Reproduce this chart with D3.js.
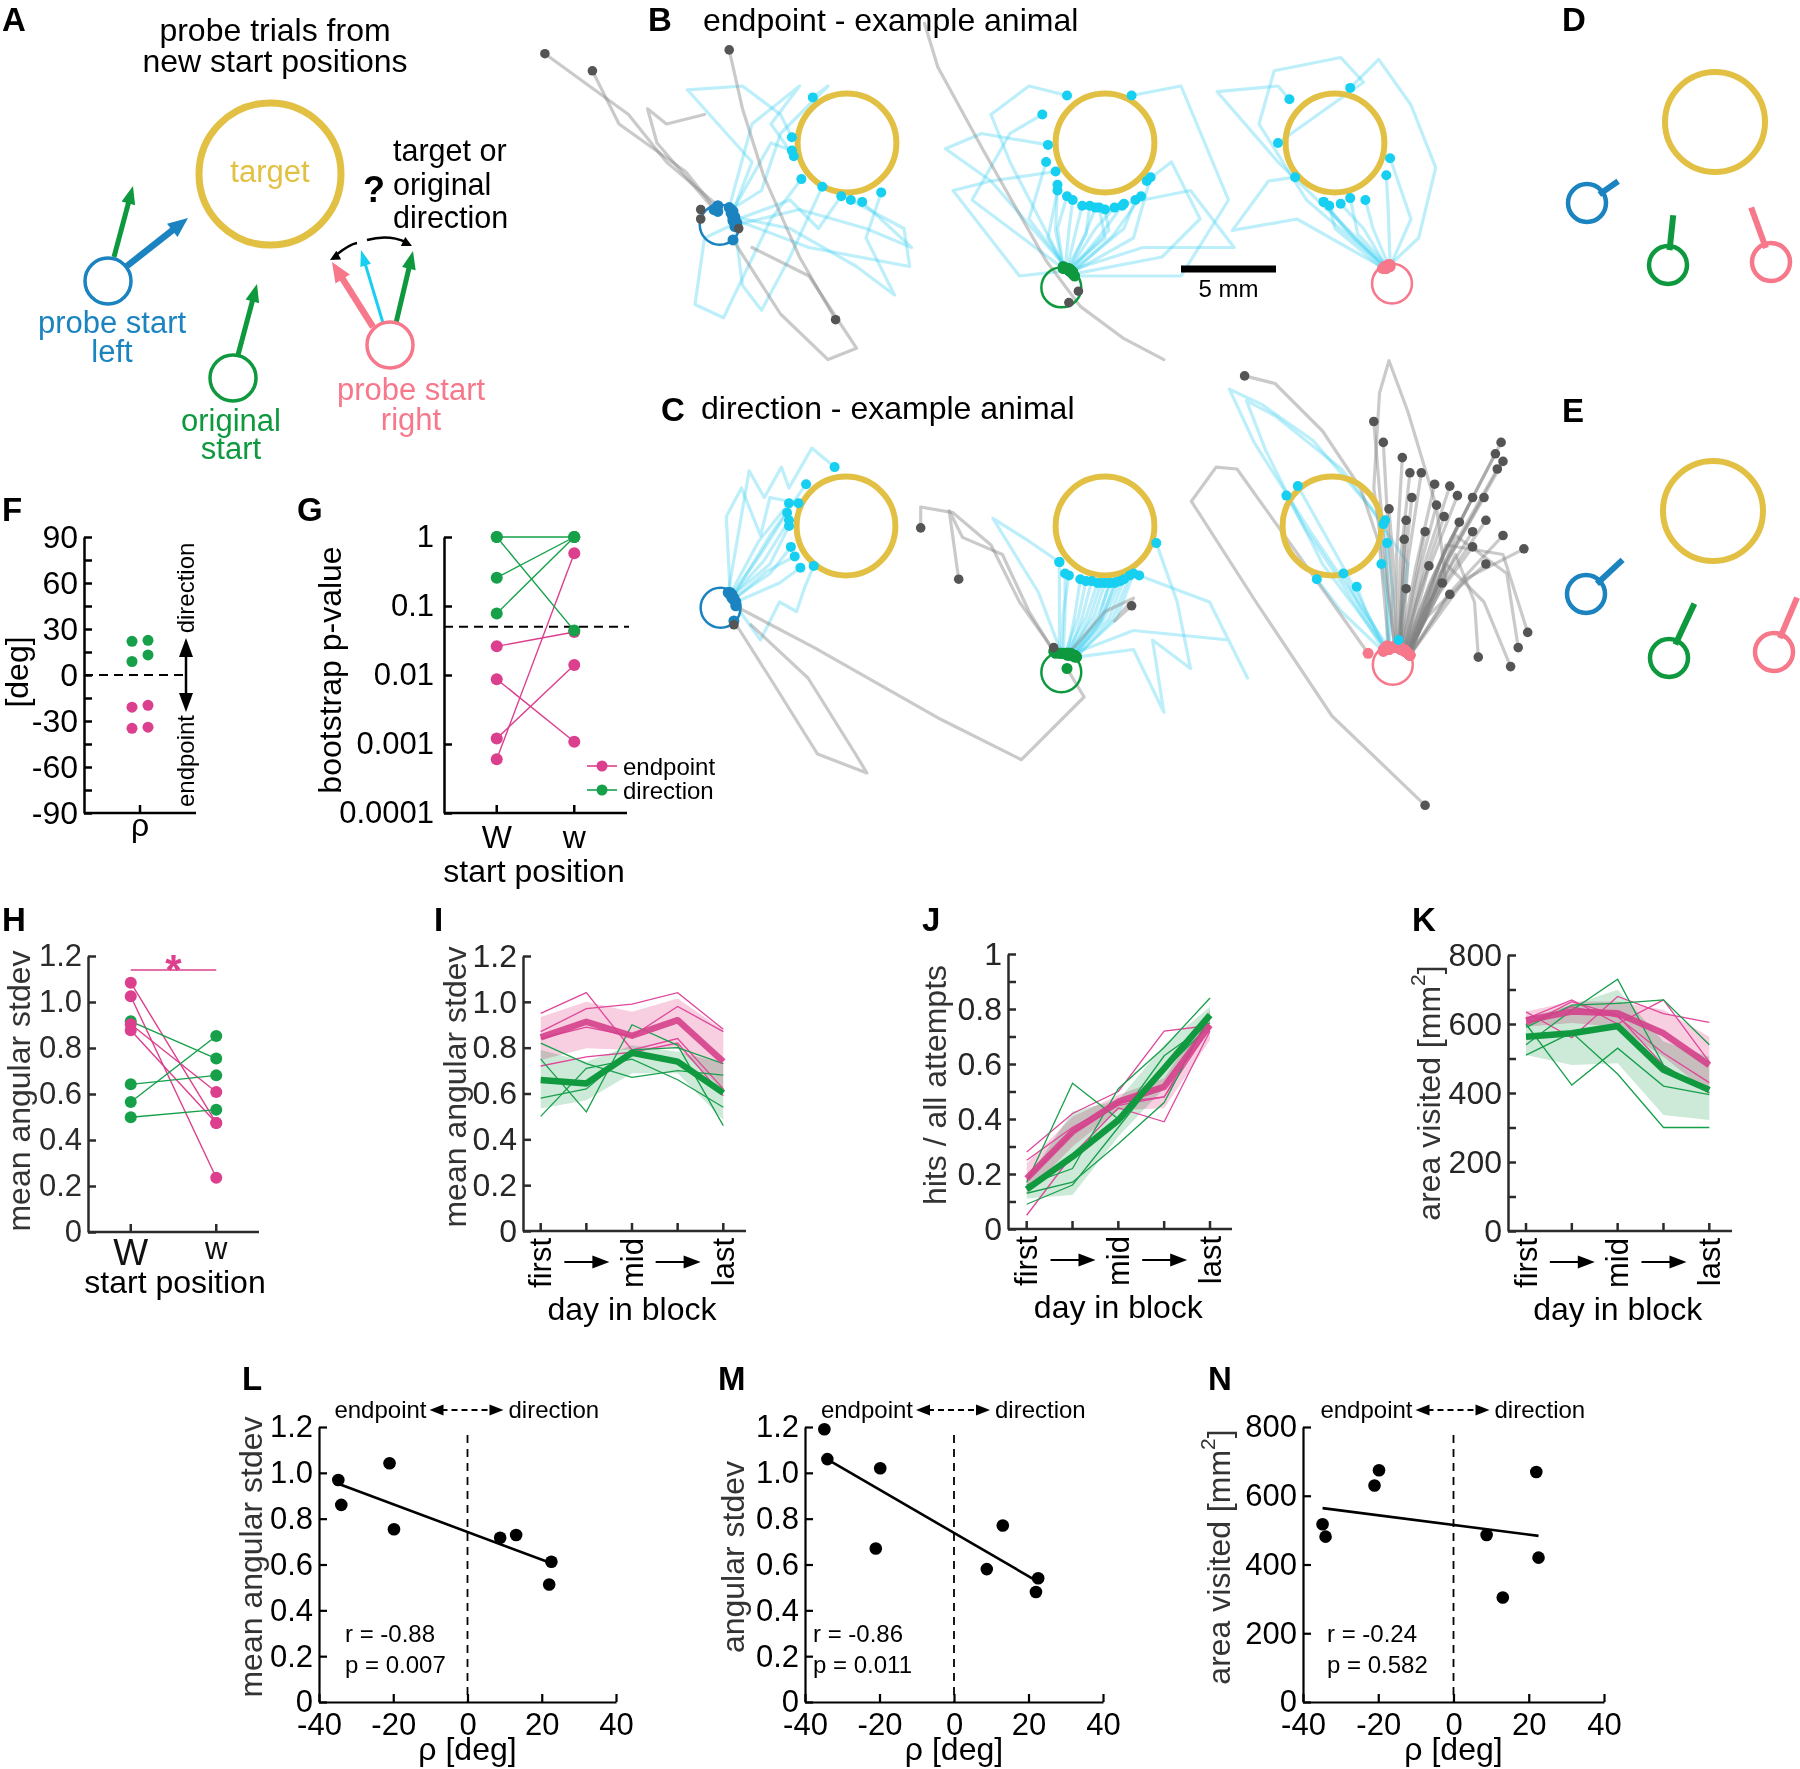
<!DOCTYPE html>
<html><head><meta charset="utf-8">
<script src="https://cdn.jsdelivr.net/npm/d3@7"></script>
<style>body{margin:0;background:#fff}svg{display:block;background:#fff}</style>
</head><body>
<script>
// ======================= DATA =======================
// rho (deg) per animal, shared by F, L, M, N
const rho      = [-34.8, -34.0, -21.0, -19.8, 8.8, 13.1, 22.0, 22.6];
const rhoGroup = ["endpoint","endpoint","endpoint","endpoint","direction","direction","direction","direction"];
const fColumn  = [-1, 1, -1, 1, -1, 1, -1, 1];
const fTicks   = [-90,-75,-60,-45,-30,-15,0,15,30,45,60,75,90];

// G: bootstrap p-values, start positions W / w
const gCats    = ["W","w"];
const gEndW    = [0.026, 0.0087, 0.0012, 0.0006];
const gEndw    = [0.042, 0.00108, 0.014, 0.58];
const gDirW    = [1.0, 1.0, 0.257, 0.078];
const gDirw    = [1.0, 0.044, 1.0, 1.0];
const gTicks   = [0.0001, 0.001, 0.01, 0.1, 1];
const gTickLab = ["0.0001","0.001","0.01","0.1","1"];

// H: mean angular stdev
const hEndW = [1.084, 1.025, 0.903, 0.877];
const hEndw = [0.474, 0.236, 0.609, 0.474];
const hDirW = [0.916, 0.642, 0.565, 0.499];
const hDirw = [0.754, 0.681, 0.852, 0.532];

// I, J, K: day in block (5 days)
const days = ["first","","mid","","last"];
const iEndMean = [0.845,0.913,0.852,0.920,0.739];
const iEndLo   = [0.746,0.797,0.790,0.798,0.615];
const iEndHi   = [0.934,1.000,0.957,1.015,0.877];
const iDirMean = [0.659,0.644,0.778,0.739,0.603];
const iDirLo   = [0.535,0.571,0.688,0.688,0.484];
const iDirHi   = [0.790,0.739,0.811,0.782,0.732];
const iEndInd  = [[0.95,1.04,0.79,0.84,0.62],[0.87,0.97,0.99,1.04,0.88],[0.84,0.89,0.85,0.98,0.87],[0.72,0.76,0.78,0.82,0.59]];
const iDirInd  = [[0.82,0.73,0.67,0.70,0.68],[0.75,0.52,0.90,0.81,0.46],[0.58,0.62,0.79,0.80,0.73],[0.50,0.71,0.75,0.66,0.54]];

const jEndMean = [0.184,0.354,0.463,0.517,0.742];
const jEndLo   = [0.130,0.300,0.433,0.439,0.687];
const jEndHi   = [0.239,0.408,0.487,0.548,0.796];
const jDirMean = [0.144,0.263,0.396,0.584,0.778];
const jDirLo   = [0.111,0.124,0.336,0.512,0.748];
const jDirHi   = [0.178,0.427,0.469,0.669,0.808];
const jEndInd  = [[0.28,0.42,0.50,0.72,0.74],[0.25,0.37,0.46,0.48,0.77],[0.18,0.35,0.45,0.48,0.73],[0.05,0.27,0.44,0.39,0.72]];
const jDirInd  = [[0.17,0.53,0.40,0.63,0.75],[0.16,0.22,0.51,0.66,0.84],[0.13,0.17,0.31,0.46,0.78],[0.09,0.16,0.37,0.58,0.74]];

const kEndMean = [611,636,631,573,481];
const kEndLo   = [592,603,592,505,399];
const kEndHi   = [636,665,665,641,563];
const kDirMean = [563,573,594,467,409];
const kDirLo   = [510,481,486,336,322];
const kDirHi   = [617,655,699,549,505];
const kEndInd  = [[635,560,680,630,605],[615,670,600,670,490],[600,650,620,515,430],[595,665,625,480,400]];
const kDirInd  = [[600,423,530,420,395],[590,655,660,670,540],[540,640,730,480,400],[510,575,455,300,300]];

// L, M, N: per-animal values vs rho
const lVals = [0.969,0.860,1.042,0.754,0.717,0.729,0.513,0.612];
const mVals = [1.19,1.06,0.67,1.02,0.58,0.77,0.48,0.54];
const nVals = [517,481,630,674,486,304,669,420];
const lStats = ["r = -0.88","p = 0.007"];
const mStats = ["r = -0.86","p = 0.011"];
const nStats = ["r = -0.24","p = 0.582"];

// D, E: mean heading (deg, clockwise from up) and vector length for left / original / right
const dHeading = [55, 6, -20];
const dLength  = [38, 50, 58];
const eHeading = [47, 25, 23];
const eLength  = [50, 60, 59];

// Trajectories (mm, relative to target centre; y down)
const targetRmm = 2.6, startRmm = 1.05, scaleBarMm = 5;
const hitsB1 = [
 [[-6.0,3.6],[-5.0,1.0],[-8.4,-2.8],[-5.5,-3.0],[-3.5,-1.5],[-2.9,-0.3]],
 [[-5.9,3.9],[-3.0,4.5],[0.5,6.5],[2.5,8.0],[1.0,5.0],[1.8,2.6]],
 [[-5.8,4.2],[-7.5,5.0],[-8.0,8.5],[-6.5,9.2],[-4.0,4.0],[-2.4,1.9]],
 [[-6.1,3.5],[-4.5,2.5],[-3.5,-0.5],[-1.0,-3.0],[-1.8,-2.4]],
 [[-6.0,4.0],[-2.0,5.5],[3.3,6.5],[3.0,4.5],[0.2,3.0]],
 [[-6.2,3.4],[-5.0,-1.0],[-2.5,-3.0],[-4.0,-1.0],[-2.8,0.7]],
 [[-5.9,4.4],[-5.5,7.5],[-4.5,8.8],[-3.0,6.0],[-1.3,2.3]],
 [[-6.0,4.1],[-3.0,3.0],[-1.5,4.5],[-0.3,2.8]],
 [[-6.1,3.7],[-4.0,0.0],[-2.9,0.4]],
 [[-5.8,4.3],[-2.5,3.5],[1.0,4.5],[3.4,5.5],[0.8,3.1]]
];
const missB1 = [
 {pts:[[-6.8,3.3],[-9.5,1.0],[-11.5,-1.5],[-15.9,-4.7]], dot:1},
 {pts:[[-6.8,3.6],[-8.5,1.5],[-12.0,-1.0],[-13.4,-3.8]], dot:1},
 {pts:[[-6.2,-4.9],[-5.5,-1.8],[-4.4,1.7],[-2.5,6.0],[-0.6,9.3]], dot:1, dot0:1},
 {pts:[[-6.0,5.1],[-3.5,9.0],[-1.0,11.4],[0.5,10.8],[-2.0,7.0],[-5.0,5.5]], dot:0},
 {pts:[[-7.0,3.5],[-10.0,0.0],[-10.5,-1.8],[-9.5,-1.0],[-7.5,-1.5]], dot:0},
 {pts:[[-7.7,3.5]], dot:1},{pts:[[-7.7,4.0]], dot:1},{pts:[[-5.7,4.5]], dot:1}
];
const hitsB2 = [
 [[-2.0,6.6],[-1.5,4.5],[-1.2,3.3]],
 [[-1.9,6.7],[-0.5,4.5],[0.5,3.4]],
 [[-2.2,6.5],[-2.5,4.5],[-2.0,2.8]],
 [[-1.8,6.8],[1.0,4.5],[1.6,3.0]],
 [[-2.0,6.6],[-6.0,2.0],[-8.4,0.3],[-6.5,-0.5],[-3.0,0.1]],
 [[-2.1,6.6],[-5.0,1.0],[-6.0,-1.5],[-4.0,-3.0],[-2.0,-2.5]],
 [[-1.7,6.9],[3.0,6.0],[5.0,4.0],[3.5,1.0],[2.2,2.0]],
 [[-1.6,7.0],[4.0,7.0],[6.5,3.0],[4.0,-3.0],[1.4,-2.5]],
 [[-2.2,6.6],[-7.0,3.0],[-5.0,-0.5],[-3.3,-1.5]],
 [[-1.9,6.6],[0.0,5.0],[-0.3,3.4]],
 [[-1.8,6.7],[2.0,5.5],[6.8,5.5],[4.5,2.5],[1.0,3.2]],
 [[-2.0,6.6],[-1.0,4.8],[-0.8,3.3]],
 [[-2.1,6.6],[-3.0,5.0],[-2.5,2.5]],
 [[-1.9,6.7],[-4.5,7.0],[-8.0,2.5],[-6.0,2.0],[-2.6,1.5]],
 [[-2.1,6.6],[-1.9,4.6],[-1.7,3.0]],
 [[-1.9,6.7],[-1.0,4.7],[-0.5,3.4]],
 [[-1.8,6.7],[-0.2,4.8],[0.9,3.3]],
 [[-1.7,6.8],[0.4,4.9],[1.9,2.8]],
 [[-2.2,6.6],[-2.6,4.6],[-2.5,2.2]],
 [[-1.8,6.7],[0.2,4.6],[0.0,3.5]],
 [[-2.0,6.6],[-4.0,4.0],[-3.1,1.0]],
 [[-1.7,6.8],[1.5,5.0],[2.4,1.8]]
];
const missB2 = [
 {pts:[[-9.5,-6.3],[-8.8,-4.0],[-6.4,0.4],[-3.1,6.2],[-1.3,8.6],[1.0,10.3],[3.1,11.4]], dot:0},
 {pts:[[-1.4,7.8]], dot:1},{pts:[[-1.9,8.4]], dot:1}
];
const hitsB3 = [
 [[2.6,6.5],[0.5,4.5],[-0.6,3.1]],
 [[2.7,6.5],[1.5,4.5],[0.3,3.2]],
 [[2.8,6.4],[2.0,4.5],[1.6,3.0]],
 [[2.9,6.4],[2.8,3.5],[2.7,1.7]],
 [[2.6,6.6],[-2.0,4.0],[-5.4,4.6],[-3.5,2.0],[-2.1,1.8]],
 [[2.7,6.5],[-3.0,1.0],[-6.2,-2.7],[-3.0,-3.0],[-2.4,-2.3]],
 [[2.8,6.5],[4.4,5.0],[5.3,1.3],[4.0,-2.0],[2.3,-4.4],[0.8,-2.9]],
 [[2.7,6.6],[-1.5,3.0],[-4.0,-1.0],[-3.2,-3.8],[0.3,-4.5],[1.5,-3.2],[-3.0,0.0]],
 [[2.9,6.5],[4.0,4.0],[2.9,0.8]],
 [[2.5,6.6],[0.0,4.5],[-0.3,3.3]],
 [[2.8,6.5],[1.2,4.8],[0.8,2.9]],
 [[2.7,6.6],[1.0,5.0],[-0.6,3.1]]
];
const missB3 = [];
const hitsC1 = [
 [[-6.0,3.6],[-4.5,1.5],[-3.1,-0.7]],
 [[-6.0,3.7],[-4.0,2.0],[-3.0,0.0]],
 [[-5.9,3.8],[-4.0,2.5],[-2.9,1.1]],
 [[-5.8,4.0],[-3.5,3.0],[-2.4,2.2]],
 [[-6.1,3.5],[-6.3,-0.5],[-5.5,-2.0],[-4.5,0.5],[-4.0,-1.5],[-2.5,-1.2]],
 [[-6.2,3.5],[-5.1,-2.9],[-4.3,-1.5],[-3.4,-3.1],[-3.0,-2.0],[-1.8,-4.1],[-0.6,-3.1]],
 [[-5.8,4.2],[-4.5,6.0],[-3.5,4.0],[-2.6,4.5],[-2.2,3.3],[-1.7,2.1]],
 [[-6.0,3.8],[-4.0,0.5],[-2.1,-2.2]],
 [[-6.0,3.7],[-4.3,1.8],[-3.0,-0.3]],
 [[-5.9,3.9],[-4.2,2.4],[-2.7,1.6]],
 [[-6.1,3.6],[-4.6,0.8],[-3.0,-1.2]]
];
const missC1 = [
 {pts:[[-5.9,5.0],[-4.0,8.0],[-1.5,12.0],[1.1,13.0],[0.5,12.0],[-2.0,8.0],[-5.0,5.2]], dot:0},
 {pts:[[-5.9,5.2]], dot:1}
];
const hitsC2 = [
 [[-2.4,6.7],[-2.4,4.5],[-2.4,1.9]],
 [[-2.2,6.7],[-2.1,4.5],[-2.1,2.5]],
 [[-2.0,6.7],[-1.6,4.8],[-1.3,2.8]],
 [[-1.9,6.7],[-1.2,4.8],[-0.7,2.9]],
 [[-1.8,6.7],[-0.8,4.8],[-0.2,3.0]],
 [[-1.7,6.8],[-0.4,4.8],[0.3,3.0]],
 [[-1.6,6.8],[0.0,4.8],[0.8,2.9]],
 [[-1.5,6.9],[0.4,4.9],[1.3,2.6]],
 [[-1.5,6.9],[1.5,6.5],[3.1,9.8],[2.5,6.0],[4.5,7.5],[3.8,4.0],[2.7,0.9]],
 [[-2.3,6.7],[-3.5,3.5],[-5.9,-0.4],[-4.0,0.8],[-2.4,1.9]],
 [[-1.9,6.8],[1.5,5.5],[6.5,6.0],[7.5,8.0],[5.5,4.0],[1.8,2.6]],
 [[-1.6,6.8],[-0.2,5.0],[0.5,3.0]],
 [[-2.1,6.7],[-1.4,4.8],[-1.0,2.9]],
 [[-1.9,6.7],[-0.6,4.8],[0.0,3.0]],
 [[-1.8,6.8],[-0.2,4.9],[0.6,2.95]],
 [[-1.7,6.8],[0.2,4.9],[1.0,2.8]],
 [[-1.6,6.9],[0.6,4.9],[1.5,2.5]],
 [[-2.3,6.7],[-2.2,4.6],[-1.9,2.6]],
 [[-2.0,6.7],[-1.0,4.8],[-0.4,3.0]],
 [[-1.9,6.8],[-0.3,4.9],[0.2,3.0]]
];
const missC2 = [
 {pts:[[-2.7,6.6],[-4.0,4.5],[-5.4,1.5],[-7.5,0.6],[-8.2,-0.8],[-7.7,2.8]], dot:1},
 {pts:[[-2.6,6.7],[-4.5,4.0],[-6.0,1.0],[-8.0,-0.7],[-9.7,-1.0],[-9.7,0.1]], dot:1},
 {pts:[[-2.0,6.8],[0.0,4.5],[1.5,3.8],[0.5,5.0],[1.4,4.2]], dot:1},
 {pts:[[-2.0,7.5],[-1.1,9.0],[-4.4,12.3],[-8.6,10.2],[-15.3,6.4],[-19.1,4.4]], dot:0},
 {pts:[[-2.7,6.4]], dot:1}
];
const hitsC3 = [
 [[2.9,6.4],[2.9,3.0],[2.8,-0.3]],
 [[3.0,6.4],[3.2,3.5],[2.9,0.9]],
 [[3.0,6.5],[2.9,4.0],[2.6,2.0]],
 [[2.8,6.5],[1.8,4.5],[1.3,3.2]],
 [[2.8,6.5],[1.5,4.3],[0.6,2.5]],
 [[2.7,6.6],[0.5,4.5],[-0.8,2.8]],
 [[2.7,6.5],[0.5,3.0],[-1.5,0.0],[-2.4,-1.6]],
 [[2.8,6.4],[0.5,2.0],[-1.8,-2.1]],
 [[2.9,6.3],[-1.0,0.5],[-4.1,-4.4],[-5.4,-7.2],[-3.7,-6.4],[-1.0,-4.5],[2.0,-1.0],[4.0,2.0],[3.5,6.0]],
 [[2.8,6.4],[-0.5,2.0],[-3.5,-4.0],[-4.5,-6.6],[-3.0,-5.8],[0.5,-3.0],[2.7,-0.1]]
];
const missC3 = [
 {pts:[[3.3,6.4],[2.7,0.5],[2.2,-5.5]],dot:1},
 {pts:[[3.4,6.4],[3.0,1.0],[2.7,-4.4]],dot:1},
 {pts:[[3.5,6.4],[3.4,1.5],[3.7,-3.6]],dot:1},
 {pts:[[3.6,6.4],[3.6,1.8],[4.1,-2.8]],dot:1},
 {pts:[[3.7,6.5],[4.0,1.8],[4.7,-2.8]],dot:1},
 {pts:[[3.6,6.4],[4.4,2.2],[5.4,-2.2]],dot:1},
 {pts:[[3.8,6.5],[4.8,2.2],[6.2,-2.1]],dot:1},
 {pts:[[3.9,6.6],[5.0,2.5],[6.6,-1.6]],dot:1},
 {pts:[[3.8,6.5],[5.4,2.5],[7.4,-1.5]],dot:1},
 {pts:[[4.0,6.7],[5.7,2.5],[8.0,-1.5]],dot:1},
 {pts:[[3.9,6.6],[6.0,1.2],[8.9,-4.4]],dot:1},
 {pts:[[4.0,6.7],[5.9,1.4],[8.6,-3.8]],dot:1},
 {pts:[[4.1,6.8],[6.2,1.6],[9.0,-3.4]],dot:1},
 {pts:[[4.0,6.7],[6.0,1.8],[8.7,-3.0]],dot:1},
 {pts:[[3.6,6.4],[3.8,2.5],[4.2,-1.5]],dot:1},
 {pts:[[3.7,6.5],[4.5,2.7],[5.5,-1.1]],dot:1},
 {pts:[[3.8,6.5],[4.7,3.0],[5.9,-0.5]],dot:1},
 {pts:[[3.5,6.4],[3.7,3.0],[3.9,-0.3]],dot:1},
 {pts:[[3.9,6.6],[5.1,3.1],[6.7,-0.2]],dot:1},
 {pts:[[4.0,6.7],[5.9,3.0],[8.1,-0.3]],dot:1},
 {pts:[[3.7,6.5],[4.3,3.3],[4.9,0.3]],dot:1},
 {pts:[[3.9,6.6],[5.5,3.3],[7.4,0.3]],dot:1},
 {pts:[[3.6,6.4],[3.7,3.5],[3.8,0.7]],dot:1},
 {pts:[[4.1,6.8],[6.4,3.3],[9.0,0.5]],dot:1},
 {pts:[[4.1,6.8],[7.0,2.8],[10.1,1.2]],dot:1},
 {pts:[[4.0,6.7],[5.6,3.6],[7.4,1.1]],dot:1},
 {pts:[[4.1,6.8],[6.0,3.8],[8.1,2.0]],dot:1},
 {pts:[[3.8,6.6],[4.4,4.2],[5.1,2.1]],dot:1},
 {pts:[[3.6,6.5],[3.7,4.8],[3.9,3.3]],dot:1},
 {pts:[[3.9,6.6],[4.8,4.5],[5.8,3.0]],dot:1},
 {pts:[[4.0,6.7],[5.0,4.8],[6.2,3.6]],dot:1},
 {pts:[[4.0,6.7],[6.0,1.0],[9.0,1.5],[10.3,5.6]],dot:1},
 {pts:[[4.1,6.8],[6.5,0.5],[9.2,2.5],[9.8,6.4]],dot:1},
 {pts:[[4.1,6.8],[6.0,2.0],[8.0,4.0],[9.4,7.4]],dot:1},
 {pts:[[4.0,6.7],[6.5,1.5],[7.5,4.0],[7.7,6.9]],dot:1},
 {pts:[[3.4,6.4],[3.3,2.8],[3.0,-0.9]],dot:1},
 {pts:[[3.0,6.5],[2.5,1.0],[1.5,-2.0],[-0.5,-5.0],[-3.0,-7.5],[-4.6,-7.9]],dot:1},
 {pts:[[1.9,6.7],[-2.5,0.5],[-5.0,-3.0],[-6.1,-3.1],[-7.4,-1.3],[-4.0,4.0],[0.0,10.0],[4.9,14.7]],dot:1},
 {pts:[[3.3,6.3],[2.2,-2.0],[2.5,-7.0],[3.0,-8.7],[4.0,-6.0],[5.5,-1.0],[6.0,3.0]],dot:0}
];

// ======================= DRAWING =======================
const FONT = '"Liberation Sans", Arial, Helvetica, sans-serif';
const COL = {gold:"#e2c044", blue:"#1b83bf", green:"#0f993f", pink:"#f6788a", cyan:"#17cff0",
  mag:"#dc3f8d", grn:"#16a04a", axis:"#2b2b2b"};
const svg = d3.select("body").append("svg").attr("width",1800).attr("height",1769)
  .attr("font-family",FONT);

function txt(x,y,s,o={}){
  const t = svg.append("text").attr("x",x).attr("y",y).text(s)
    .attr("font-size",o.size||32).attr("fill",o.fill||"#000")
    .attr("text-anchor",o.anchor||"start").attr("font-weight",o.weight||"normal");
  if(o.baseline) t.attr("dominant-baseline",o.baseline);
  return t;
}
function vtxt(cx,cy,s,size,fill){
  return svg.append("text").attr("transform",`translate(${cx},${cy}) rotate(-90)`)
    .attr("text-anchor","middle").attr("dominant-baseline","central")
    .attr("font-size",size).attr("fill",fill||"#000").text(s);
}
function plabel(x,y,s){ txt(x,y,s,{size:33,weight:"bold"}); }
function head(g,x,y,ang,color,hl,hw){
  const ux=Math.cos(ang), uy=Math.sin(ang), bx=x-ux*hl, by=y-uy*hl;
  g.append("path").attr("d",`M${x},${y}L${bx-uy*hw/2},${by+ux*hw/2}L${bx+uy*hw/2},${by-ux*hw/2}Z`).attr("fill",color);
}
function arrow(g,x1,y1,x2,y2,color,w,hl,hw){
  const a=Math.atan2(y2-y1,x2-x1);
  g.append("line").attr("x1",x1).attr("y1",y1).attr("x2",x2-Math.cos(a)*(hl-2)).attr("y2",y2-Math.sin(a)*(hl-2))
   .attr("stroke",color).attr("stroke-width",w);
  head(g,x2,y2,a,color,hl,hw);
}
function line(x1,y1,x2,y2,color,w,dash){
  const l=svg.append("line").attr("x1",x1).attr("y1",y1).attr("x2",x2).attr("y2",y2).attr("stroke",color).attr("stroke-width",w);
  if(dash) l.attr("stroke-dasharray",dash);
  return l;
}
function yAxis(scale,x,o){
  const ax=d3.axisLeft(scale).tickSizeInner(-8).tickSizeOuter(0).tickPadding(o.pad||6);
  if(o.values) ax.tickValues(o.values);
  if(o.format) ax.tickFormat(o.format);
  const g=svg.append("g").attr("transform",`translate(${x},0)`).call(ax);
  g.attr("font-family",null).attr("font-size",null);
  g.select(".domain").attr("stroke",o.color||"#000").attr("stroke-width",o.sw||2.5);
  g.selectAll(".tick line").attr("stroke",o.color||"#000").attr("stroke-width",o.sw||2.5);
  g.selectAll(".tick text").attr("font-size",o.fs||31).attr("fill",o.tc||"#000");
  return g;
}
function xTicks(xs,y,color,sw){ xs.forEach(x=>line(x,y,x,y-8,color,sw)); }

// ---------------- Panel A ----------------
(function(){
  const g=svg.append("g");
  plabel(2,31,"A");
  txt(275,41,"probe trials from",{anchor:"middle",size:32});
  txt(275,72,"new start positions",{anchor:"middle",size:32});
  g.append("circle").attr("cx",270).attr("cy",174).attr("r",71).attr("fill","none").attr("stroke",COL.gold).attr("stroke-width",7);
  txt(270,182,"target",{anchor:"middle",size:31,fill:COL.gold});
  arrow(g,114,257,133,186,COL.green,5,18,14);
  arrow(g,127,266,188,218,COL.blue,6.5,20,17);
  g.append("circle").attr("cx",108).attr("cy",281).attr("r",23).attr("fill","none").attr("stroke",COL.blue).attr("stroke-width",3.5);
  txt(112,333,"probe start",{anchor:"middle",size:31,fill:COL.blue});
  txt(112,362,"left",{anchor:"middle",size:31,fill:COL.blue});
  arrow(g,238,355,257,284,COL.green,5,18,14);
  g.append("circle").attr("cx",233).attr("cy",378).attr("r",23).attr("fill","none").attr("stroke",COL.green).attr("stroke-width",3.5);
  txt(231,431,"original",{anchor:"middle",size:31,fill:COL.green});
  txt(231,459,"start",{anchor:"middle",size:31,fill:COL.green});
  arrow(g,373,327,332,262,COL.pink,6.5,20,17);
  arrow(g,383,323,361,250,COL.cyan,3,16,11);
  arrow(g,396,323,413,251,COL.green,5,18,14);
  g.append("circle").attr("cx",390).attr("cy",345).attr("r",23).attr("fill","none").attr("stroke",COL.pink).attr("stroke-width",3.5);
  txt(411,400,"probe start",{anchor:"middle",size:31,fill:COL.pink});
  txt(411,430,"right",{anchor:"middle",size:31,fill:COL.pink});
  g.append("path").attr("d","M336,255 Q350,244 357,243").attr("fill","none").attr("stroke","#000").attr("stroke-width",2.5);
  g.append("path").attr("d","M367,240 Q388,234 406,242").attr("fill","none").attr("stroke","#000").attr("stroke-width",2.5);
  head(g,330,260,Math.atan2(0.55,-1),"#000",10,10);
  head(g,412,246,Math.atan2(0.5,1),"#000",10,10);
  txt(374,202,"?",{anchor:"middle",size:36,weight:"bold"});
  txt(393,161,"target or",{size:30.5});
  txt(393,195,"original",{size:30.5});
  txt(393,228,"direction",{size:30.5});
})();

// ---------------- Panels B, C trajectories ----------------
const PXMM = 19;
const trajPanels = [
  {T:[847,143], S:[-6.7,4.3], col:COL.blue,  hits:hitsB1, miss:missB1},
  {T:[1105,143],S:[-2.3,7.6], col:COL.green, hits:hitsB2, miss:missB2},
  {T:[1335,143],S:[3.0,7.4],  col:COL.pink,  hits:hitsB3, miss:missB3},
  {T:[846,526], S:[-6.6,4.3], col:COL.blue,  hits:hitsC1, miss:missC1},
  {T:[1105,526],S:[-2.3,7.7], col:COL.green, hits:hitsC2, miss:missC2},
  {T:[1332,526],S:[3.2,7.3],  col:COL.pink,  hits:hitsC3, miss:missC3}
];
function drawTraj(p){
  const x=d3.scaleLinear().domain([0,1]).range([p.T[0],p.T[0]+PXMM]);
  const y=d3.scaleLinear().domain([0,1]).range([p.T[1],p.T[1]+PXMM]);
  const ln=d3.line().x(d=>x(d[0])).y(d=>y(d[1])).curve(d3.curveLinear);
  const g=svg.append("g");
  p.hits.forEach(h=>g.append("path").attr("d",ln(h)).attr("fill","none").attr("stroke","#3fd0f2")
    .attr("stroke-opacity",0.35).attr("stroke-width",3.2).attr("stroke-linejoin","round").attr("stroke-linecap","round"));
  p.miss.filter(m=>m.pts.length>1).forEach(m=>g.append("path").attr("d",ln(m.pts)).attr("fill","none").attr("stroke","#808080")
    .attr("stroke-opacity",0.42).attr("stroke-width",3.2).attr("stroke-linejoin","round").attr("stroke-linecap","round"));
  g.append("circle").attr("cx",x(0)).attr("cy",y(0)).attr("r",x(targetRmm)-x(0)).attr("fill","none").attr("stroke",COL.gold).attr("stroke-width",6);
  g.append("circle").attr("cx",x(p.S[0])).attr("cy",y(p.S[1])).attr("r",x(startRmm)-x(0)).attr("fill","none").attr("stroke",p.col).attr("stroke-width",2.5);
  const near=d=>Math.hypot(d[0]-p.S[0],d[1]-p.S[1])<1.6;
  p.hits.concat(p.miss.filter(m=>m.pts.length>1).map(m=>m.pts)).forEach(h=>{
    if(near(h[0])) g.append("circle").attr("cx",x(h[0][0])).attr("cy",y(h[0][1])).attr("r",5.5).attr("fill",p.col);
  });
  p.hits.forEach(h=>{const d=h[h.length-1]; g.append("circle").attr("cx",x(d[0])).attr("cy",y(d[1])).attr("r",5).attr("fill",COL.cyan);});
  p.miss.forEach(m=>{
    if(m.dot){const d=m.pts[m.pts.length-1]; g.append("circle").attr("cx",x(d[0])).attr("cy",y(d[1])).attr("r",4.8).attr("fill","#555");}
    if(m.dot0){const d=m.pts[0]; g.append("circle").attr("cx",x(d[0])).attr("cy",y(d[1])).attr("r",4.8).attr("fill","#555");}
  });
  return x;
}
trajPanels.forEach(drawTraj);
plabel(648,31,"B"); txt(703,31,"endpoint - example animal",{size:32});
plabel(661,421,"C"); txt(701,419,"direction - example animal",{size:32});
(function(){
  const x=d3.scaleLinear().domain([0,1]).range([1181,1181+PXMM]);
  line(x(0),269,x(scaleBarMm),269,"#000",7);
  txt((x(0)+x(scaleBarMm))/2,297,"5 mm",{anchor:"middle",size:24});
})();

// ---------------- Panels D, E ----------------
function lollipops(pos,headings,lengths){
  const g=svg.append("g"); const cols=[COL.blue,COL.green,COL.pink];
  pos.forEach((p,i)=>{
    const a=headings[i]*Math.PI/180, sx=Math.sin(a), sy=-Math.cos(a);
    g.append("line").attr("x1",p[0]+sx*15).attr("y1",p[1]+sy*15).attr("x2",p[0]+sx*lengths[i]).attr("y2",p[1]+sy*lengths[i])
      .attr("stroke",cols[i]).attr("stroke-width",6);
    g.append("circle").attr("cx",p[0]).attr("cy",p[1]).attr("r",19).attr("fill","none").attr("stroke",cols[i]).attr("stroke-width",4.5);
  });
}
plabel(1562,31,"D");
svg.append("circle").attr("cx",1715).attr("cy",122).attr("r",50).attr("fill","none").attr("stroke",COL.gold).attr("stroke-width",6);
lollipops([[1587,203],[1668,265],[1771,262]],dHeading,dLength);
plabel(1562,422,"E");
svg.append("circle").attr("cx",1713).attr("cy",511).attr("r",50).attr("fill","none").attr("stroke",COL.gold).attr("stroke-width",6);
lollipops([[1586,594],[1669,658],[1774,652]],eHeading,eLength);

// ---------------- Panel F ----------------
(function(){
  plabel(2,521,"F");
  const y=d3.scaleLinear().domain([-90,90]).range([813,537]);
  const xc=d3.scalePoint().domain(["ρ"]).range([84,196]).padding(0.5);
  const jit=d3.scaleLinear().domain([-1,1]).range([xc("ρ")-8,xc("ρ")+8]);
  yAxis(y,84,{values:fTicks,format:d=>d%30===0?String(d):"",fs:32,pad:6});
  line(84,813,196,813,"#000",2.5);
  xTicks([xc("ρ")],813,"#000",2.5);
  line(84,y(0),189,y(0),"#000",2.2,"9,6");
  rho.forEach((r,i)=>svg.append("circle").attr("cx",jit(fColumn[i])).attr("cy",y(r)).attr("r",5.5)
    .attr("fill",rhoGroup[i]==="endpoint"?COL.mag:COL.grn));
  txt(xc("ρ"),836,"ρ",{anchor:"middle",size:32});
  vtxt(17,672,"[deg]",32);
  vtxt(185,588,"direction",24);
  vtxt(185,761,"endpoint",24);
  const g=svg.append("g");
  line(186,652,186,698,"#000",2.5);
  head(g,186,638,-Math.PI/2,"#000",19,14);
  head(g,186,712,Math.PI/2,"#000",19,14);
})();

// ---------------- Panel G ----------------
(function(){
  plabel(297,521,"G");
  const y=d3.scaleLog().domain([0.0001,1]).range([813,537]);
  const x=d3.scalePoint().domain(gCats).range([444,627]).padding(0.68);
  yAxis(y,444,{values:gTicks,format:d=>gTickLab[gTicks.indexOf(d)],fs:31,pad:10});
  line(444,813,627,813,"#000",2.5);
  xTicks(gCats.map(c=>x(c)),813,"#000",2.5);
  line(444,y(0.05),629,y(0.05),"#000",2.2,"9,6");
  const pairs=(a,b,col)=>a.forEach((v,i)=>line(x("W"),y(v),x("w"),y(b[i]),col,1.4));
  pairs(gEndW,gEndw,COL.mag); pairs(gDirW,gDirw,COL.grn);
  const dots=(a,c,col)=>a.forEach(v=>svg.append("circle").attr("cx",x(c)).attr("cy",y(v)).attr("r",6).attr("fill",col));
  dots(gEndW,"W",COL.mag); dots(gEndw,"w",COL.mag); dots(gDirW,"W",COL.grn); dots(gDirw,"w",COL.grn);
  gCats.forEach(c=>txt(x(c),848,c,{anchor:"middle",size:32}));
  txt(534,882,"start position",{anchor:"middle",size:32});
  vtxt(330,670,"bootstrap p-value",32);
  [["endpoint",COL.mag,766],["direction",COL.grn,790]].forEach(([s,col,yy])=>{
    line(587,yy,617,yy,col,1.6);
    svg.append("circle").attr("cx",602).attr("cy",yy).attr("r",5.5).attr("fill",col);
    txt(623,yy,s,{size:24,baseline:"central"});
  });
})();

// ---------------- Panel H ----------------
(function(){
  plabel(2,931,"H");
  const y=d3.scaleLinear().domain([0,1.2]).range([1232,956]);
  const x=d3.scalePoint().domain(gCats).range([88,259]).padding(0.5);
  yAxis(y,88,{values:d3.range(0,1.21,0.2),format:d=>d<1e-9?"0":d.toFixed(1),fs:31,pad:6,color:COL.axis,tc:COL.axis});
  line(88,1232,259,1232,COL.axis,2.5);
  xTicks(gCats.map(c=>x(c)),1232,COL.axis,2.5);
  const pairs=(a,b,col)=>a.forEach((v,i)=>line(x("W"),y(v),x("w"),y(b[i]),col,1.4));
  pairs(hEndW,hEndw,COL.mag); pairs(hDirW,hDirw,COL.grn);
  const dots=(a,c,col)=>a.forEach(v=>svg.append("circle").attr("cx",x(c)).attr("cy",y(v)).attr("r",6).attr("fill",col));
  dots(hDirW,"W",COL.grn); dots(hDirw,"w",COL.grn); dots(hEndW,"W",COL.mag); dots(hEndw,"w",COL.mag);
  line(x("W"),970,x("w"),970,COL.mag,1.4);
  txt((x("W")+x("w"))/2,984,"*",{anchor:"middle",size:42,weight:"bold",fill:COL.mag});
  txt(x("W"),1265,"W",{anchor:"middle",size:37,fill:"#111"});
  txt(x("w"),1259,"w",{anchor:"middle",size:31,fill:"#111"});
  txt(175,1293,"start position",{anchor:"middle",size:32});
  vtxt(19,1091,"mean angular stdev",32,"#333");
})();

// ---------------- Panels I, J, K ----------------
function dayPanel(o){
  plabel(o.lx,931,o.label);
  const y=d3.scaleLinear().domain(o.ydom).range([o.y0,o.y1]);
  const x=d3.scaleLinear().domain([0,4]).range([o.xt0,o.xt1]);
  yAxis(y,o.ax,{values:o.yticks,format:o.yfmt,fs:32,pad:6,color:COL.axis,tc:"#262626"});
  const idx=d3.range(5);
  const area=(lo,hi)=>d3.area().x(i=>x(i)).y0(i=>y(lo[i])).y1(i=>y(hi[i]))(idx);
  const ln=(v)=>d3.line().x(i=>x(i)).y(i=>y(v[i]))(idx);
  const bg=svg.append("g");
  bg.append("path").attr("d",area(o.eLo,o.eHi)).attr("fill","#f8cfe1").style("mix-blend-mode","multiply");
  bg.append("path").attr("d",area(o.dLo,o.dHi)).attr("fill","#cde9d7").style("mix-blend-mode","multiply");
  o.eInd.forEach(v=>svg.append("path").attr("d",ln(v)).attr("fill","none").attr("stroke","#e0479a").attr("stroke-width",1.3));
  o.dInd.forEach(v=>svg.append("path").attr("d",ln(v)).attr("fill","none").attr("stroke","#17a04c").attr("stroke-width",1.3));
  svg.append("path").attr("d",ln(o.eMean)).attr("fill","none").attr("stroke","#d4418b").attr("stroke-opacity",0.9).attr("stroke-width",6.5).attr("stroke-linejoin","round");
  svg.append("path").attr("d",ln(o.dMean)).attr("fill","none").attr("stroke","#10993f").attr("stroke-width",6.5).attr("stroke-linejoin","round");
  line(o.ax,o.y0,o.axEnd,o.y0,COL.axis,2.5);
  xTicks(idx.map(i=>x(i)),o.y0,COL.axis,2.5);
  days.forEach((d,i)=>{ if(d) svg.append("text").attr("transform",`translate(${x(i)},${o.y0+7}) rotate(-90)`)
      .attr("text-anchor","end").attr("dominant-baseline","central").attr("font-size",31).attr("fill","#000").text(d); });
  const g=svg.append("g");
  [1,3].forEach(i=>{ const xa=x(i)-22, xb=x(i)+23, yy=o.y0+31;
    line(xa,yy,xb-12,yy,"#000",2.2); head(g,xb,yy,0,"#000",17,13); });
  txt((x(0)+x(4))/2,o.y0+89,"day in block",{anchor:"middle",size:32});
  return y;
}
dayPanel({label:"I",lx:434,ax:523,axEnd:746,xt0:540.7,xt1:723.3,y0:1231,y1:956,ydom:[0,1.2],
  yticks:d3.range(0,1.21,0.2),yfmt:d=>d<1e-9?"0":d.toFixed(1),
  eLo:iEndLo,eHi:iEndHi,dLo:iDirLo,dHi:iDirHi,eInd:iEndInd,dInd:iDirInd,eMean:iEndMean,dMean:iDirMean});
vtxt(455,1087,"mean angular stdev",32,"#333");
dayPanel({label:"J",lx:922,ax:1008,axEnd:1232,xt0:1026.7,xt1:1210,y0:1229,y1:954,ydom:[0,1],
  yticks:d3.range(0,1.001,0.1),yfmt:d=>{const k=Math.round(d*10); return k===0?"0":k===10?"1":(k%2===0?(k/10).toFixed(1):"");},
  eLo:jEndLo,eHi:jEndHi,dLo:jDirLo,dHi:jDirHi,eInd:jEndInd,dInd:jDirInd,eMean:jEndMean,dMean:jDirMean});
vtxt(935,1085,"hits / all attempts",32,"#333");
dayPanel({label:"K",lx:1412,ax:1508,axEnd:1732,xt0:1526,xt1:1709.3,y0:1231,y1:955,ydom:[0,800],
  yticks:d3.range(0,801,100),yfmt:d=>d%200===0?String(d):"",
  eLo:kEndLo,eHi:kEndHi,dLo:kDirLo,dHi:kDirHi,eInd:kEndInd,dInd:kDirInd,eMean:kEndMean,dMean:kDirMean});
(function(){
  const t=svg.append("text").attr("transform","translate(1429,1093) rotate(-90)").attr("text-anchor","middle")
    .attr("dominant-baseline","central").attr("font-size",32).attr("fill","#333");
  t.append("tspan").text("area visited [mm");
  t.append("tspan").text("2").attr("font-size",21).attr("dy",-12);
  t.append("tspan").text("]").attr("dy",12);
})();

// ---------------- Panels L, M, N ----------------
function corrPanel(o){
  plabel(o.lx,1390,o.label);
  const x=d3.scaleLinear().domain([-40,40]).range([o.ax,o.ax+o.w]);
  const y=d3.scaleLinear().domain(o.ydom).range([1702,1427]);
  yAxis(y,o.ax,{values:o.yticks,format:o.yfmt,fs:31,pad:6,color:"#000",tc:"#000",sw:2.2});
  const xa=d3.axisBottom(x).tickValues([-40,-20,0,20,40]).tickFormat(d=>String(d)).tickSizeInner(-8).tickSizeOuter(0).tickPadding(11);
  const gx=svg.append("g").attr("transform","translate(0,1702)").call(xa);
  gx.attr("font-family",null).attr("font-size",null);
  gx.select(".domain").attr("stroke","#000").attr("stroke-width",2.2);
  gx.selectAll(".tick line").attr("stroke","#000").attr("stroke-width",2.2);
  gx.selectAll(".tick text").attr("font-size",31).attr("fill","#000");
  line(x(0),1435,x(0),1702,"#000",1.8,"8,6");
  const mx=d3.mean(rho), my=d3.mean(o.vals);
  const b=d3.sum(rho.map((r,i)=>(r-mx)*(o.vals[i]-my)))/d3.sum(rho.map(r=>(r-mx)*(r-mx)));
  const x0=d3.min(rho), x1=d3.max(rho);
  line(x(x0),y(my+b*(x0-mx)),x(x1),y(my+b*(x1-mx)),"#000",2.6);
  rho.forEach((r,i)=>svg.append("circle").attr("cx",x(r)).attr("cy",y(o.vals[i])).attr("r",6.3).attr("fill","#000"));
  txt(o.statX,1642,o.stats[0],{size:24});
  txt(o.statX,1673,o.stats[1],{size:24});
  const g=svg.append("g"), cx=x(0), ty=1410;
  txt(cx-41,1418,"endpoint",{anchor:"end",size:24});
  txt(cx+41,1418,"direction",{size:24});
  line(cx-26,ty,cx+24,ty,"#000",2,"6,4");
  head(g,cx-38,ty,Math.PI,"#000",14,11); head(g,cx+36,ty,0,"#000",14,11);
  txt(x(0),1760,"ρ [deg]",{anchor:"middle",size:32});
  const t=svg.append("text").attr("transform",`translate(${o.ylx},1557) rotate(-90)`).attr("text-anchor","middle")
    .attr("dominant-baseline","central").attr("font-size",32).attr("fill","#333");
  o.ylab.forEach(p=>{const s=t.append("tspan").text(p.s); if(p.sup){s.attr("font-size",21).attr("dy",-12);} if(p.down) s.attr("dy",12);});
}
corrPanel({label:"L",lx:242,ax:319,w:297,ydom:[0,1.2],yticks:d3.range(0,1.21,0.2),yfmt:d=>d<1e-9?"0":d.toFixed(1),
  vals:lVals,stats:lStats,statX:345,ylx:251,ylab:[{s:"mean angular stdev"}]});
corrPanel({label:"M",lx:718,ax:805,w:298,ydom:[0,1.2],yticks:d3.range(0,1.21,0.2),yfmt:d=>d<1e-9?"0":d.toFixed(1),
  vals:mVals,stats:mStats,statX:813,ylx:733,ylab:[{s:"angular stdev"}]});
corrPanel({label:"N",lx:1208,ax:1303,w:301,ydom:[0,800],yticks:d3.range(0,801,200),yfmt:d=>String(d),
  vals:nVals,stats:nStats,statX:1327,ylx:1219,ylab:[{s:"area visited [mm"},{s:"2",sup:1},{s:"]",down:1}]});
</script>
</body></html>
